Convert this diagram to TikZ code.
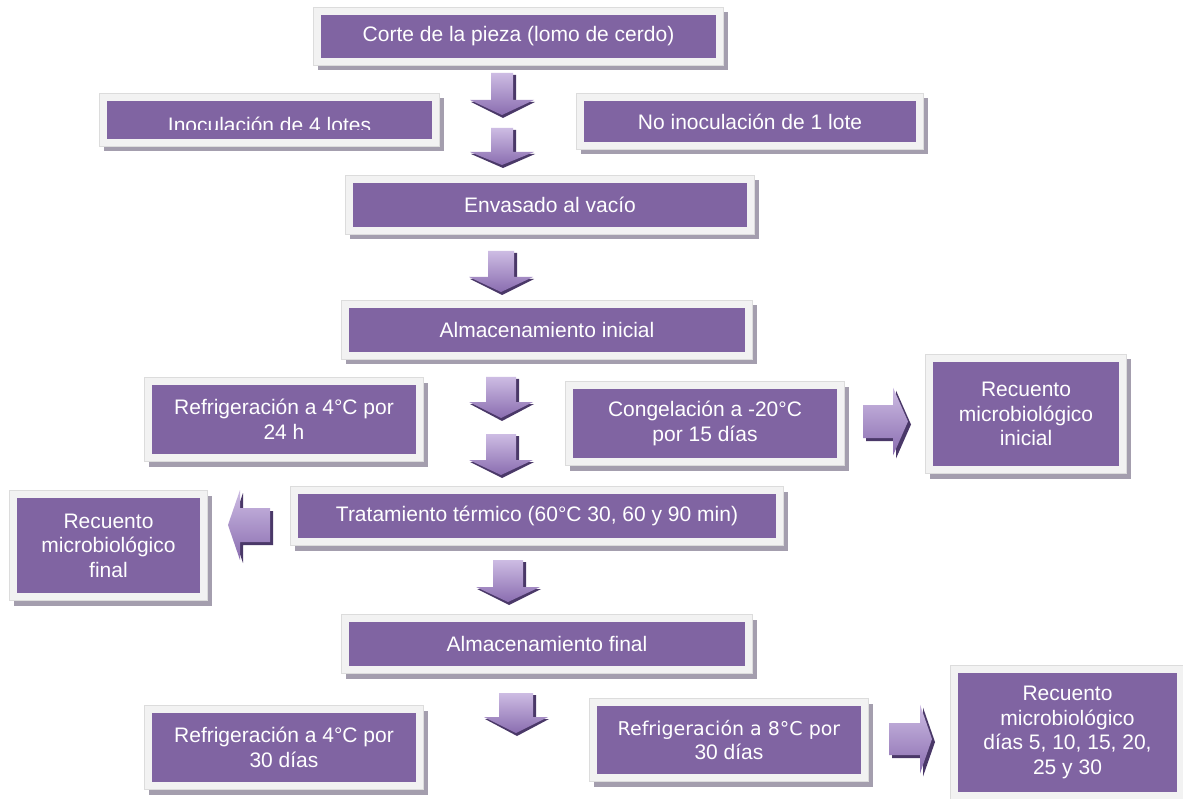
\documentclass[tikz,border=0pt]{standalone}
\usepackage{fontspec}
\setmainfont{Liberation Sans}
\newfontfamily\tahfont{DejaVu Sans}
\definecolor{purp}{HTML}{8064A2}
\definecolor{framec}{HTML}{F2F2F2}
\definecolor{frameedge}{HTML}{DCDCDC}
\definecolor{shadc}{HTML}{A49EAE}
\definecolor{arlight}{HTML}{CDBCE3}
\definecolor{armid}{HTML}{8A6DB0}
\definecolor{ardark}{HTML}{4A3868}
\tikzset{
  pinner/.style={fill=purp, text=white, align=center, inner sep=0pt, font=\fontsize{21}{24.5}\selectfont},
}
% box: name, inner x1, y1, x2, y2, text
\newcommand\pbx[6]{%
  \fill[shadc] ({#2-7.5+4},{#3-7.5+5}) rectangle ({#4+7.5+4},{#5+7.5+5});
  \filldraw[fill=framec, draw=frameedge, line width=0.8pt] ({#2-7.5},{#3-7.5}) rectangle ({#4+7.5},{#5+7.5});
  \node[pinner, minimum width={(#4-#2)*1pt}, minimum height={(#5-#3)*1pt}] (#1) at ({(#2+#4)/2},{(#3+#5)/2}) {#6};
}
% down arrow: cx, top, base, tip, shaft half width, head half width
\newcommand\darr[6]{%
  \fill[ardark] ({#1-#5+3},{#2+2}) -- ({#1+#5+3},{#2+2}) -- ({#1+#5+3},{#3+2}) -- ({#1+#6+1},{#3+2}) -- ({#1+1},{#4+3}) -- ({#1-#6+1},{#3+2}) -- ({#1-#5+3},{#3+2}) -- cycle;
  \shade[top color=arlight, bottom color=armid] ({#1-#5},#2) -- ({#1+#5},#2) -- ({#1+#5},#3) -- ({#1+#6},#3) -- (#1,#4) -- ({#1-#6},#3) -- ({#1-#5},#3) -- cycle;
}
% horizontal arrow: x start, head base x, tip x, cy, shaft half, head half
\newcommand\harr[6]{%
  \fill[ardark] ({#1+3},{#4-#5+3}) -- ({#2+3},{#4-#5+3}) -- ({#2+3},{#4-#6+3}) -- ({#3+3},{#4+3}) -- ({#2+3},{#4+#6+3}) -- ({#2+3},{#4+#5+3}) -- ({#1+3},{#4+#5+3}) -- cycle;
  \shade[top color=arlight, bottom color=armid] (#1,{#4-#5}) -- (#2,{#4-#5}) -- (#2,{#4-#6}) -- (#3,#4) -- (#2,{#4+#6}) -- (#2,{#4+#5}) -- (#1,{#4+#5}) -- cycle;
}
\begin{document}
\begin{tikzpicture}[x=1pt,y=-1pt]
\useasboundingbox (0,0) rectangle (1183,799);
\fill[white] (0,0) rectangle (1183,799);

\pbx{corte}{321}{15}{716}{58}{Corte de la pieza (lomo de cerdo)}
\pbx{inoc}{107}{101}{432}{139}{}
\begin{scope}
  \clip (107,101) rectangle (432,129.5);
  \node[anchor=base, text=white, inner sep=0pt, font=\fontsize{21}{24.5}\selectfont] (inoctext) at (269.5,132.5) {Inoculación de 4 lotes};
\end{scope}
\pbx{noinoc}{584}{101}{916}{142}{No inoculación de 1 lote}
\pbx{envas}{353}{183}{747}{227}{Envasado al vacío}
\pbx{almi}{349}{308}{745}{352}{Almacenamiento inicial}
\pbx{refa}{152}{385}{416}{454}{Refrigeración a 4°C por\\24 h}
\pbx{cong}{573}{389}{837}{458}{Congelación a -20°C\\por 15 días}
\pbx{reci}{933}{362}{1119}{466}{Recuento\\microbiológico\\inicial}
\pbx{trat}{298}{494}{776}{538}{Tratamiento térmico (60°C 30, 60 y 90 min)}
\pbx{recf}{17}{498}{200}{593}{Recuento\\microbiológico\\final}
\pbx{almf}{349}{622}{745}{666}{Almacenamiento final}
\pbx{refb}{152}{713}{416}{782}{Refrigeración a 4°C por\\30 días}
\pbx{refc}{597}{706}{861}{774}{\tahfont\fontsize{19}{24}\selectfont Refrigeración a 8°C por\\30 días}
\pbx{recd}{958}{673}{1177}{792}{Recuento\\microbiológico\\días 5, 10, 15, 20,\\25 y 30}

\darr{502}{73}{100}{115}{11}{32}
\darr{502}{128}{152}{165}{11}{32}
\darr{501}{251}{277}{292}{13}{32}
\darr{501}{377}{402}{418}{15}{32}
\darr{501}{434}{460}{475}{15}{32}
\darr{508}{560}{587}{602}{15}{32}
\darr{516}{693}{717}{733}{17}{32}

\harr{863}{893}{908}{421.5}{16.5}{34}
\harr{270}{240}{228}{525}{17}{35}
\harr{889}{920}{932}{739}{16}{34.5}
\end{tikzpicture}
\end{document}
